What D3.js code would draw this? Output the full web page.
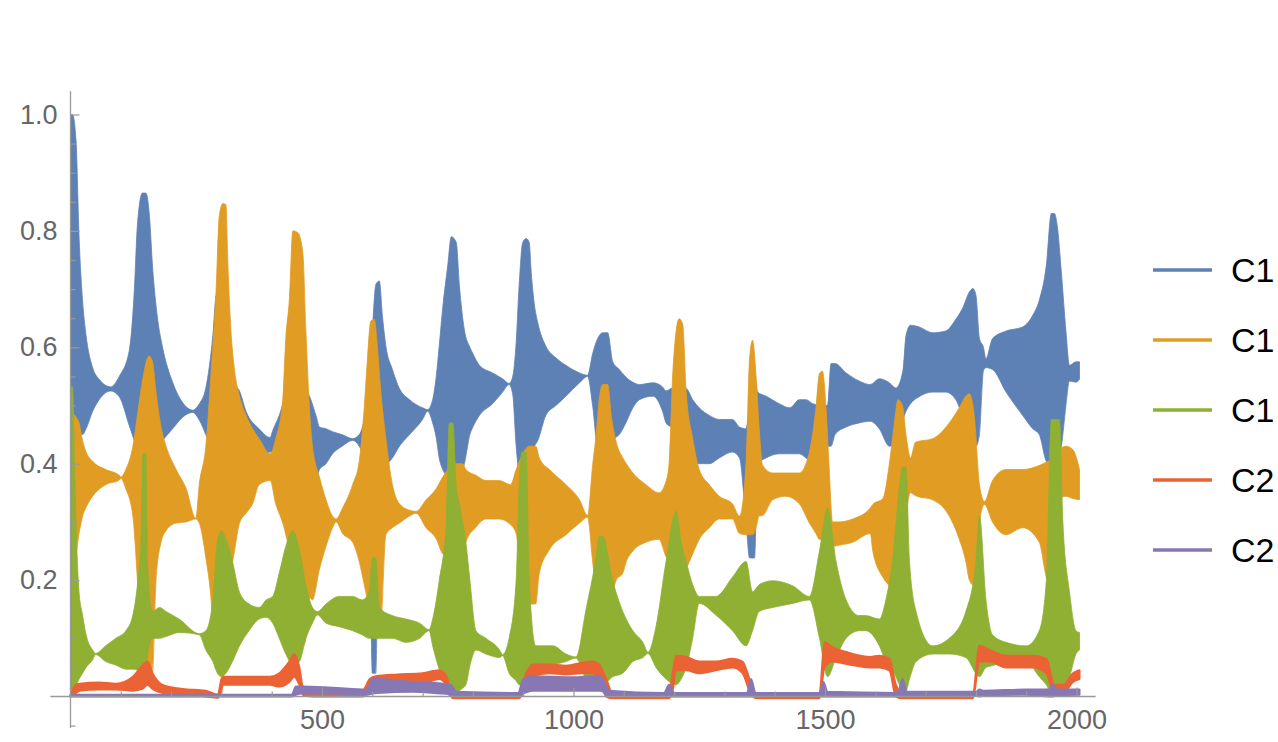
<!DOCTYPE html>
<html>
<head>
<meta charset="utf-8">
<script src="https://cdn.jsdelivr.net/npm/d3@7"></script>
<style>
  body { margin: 0; background: #fff; }
  svg { display: block; }
</style>
</head>
<body>
<svg id="chart" width="1278" height="742"></svg>
<script>
// series names as shown in the (clipped) legend
const names = ['C1', 'C1', 'C1', 'C2', 'C2'];

// each series oscillates fast, so it is kept as an envelope: [x, low, high]
const c1a = [[0,0.55,1.0],[4,0.50,1.0],[11,0.47,0.955],[17,0.45,0.79],[24,0.45,0.68],[31,0.46,0.62],[44,0.49,0.565],[57,0.51,0.545],[80,0.525,0.532],[97,0.515,0.55],[117,0.465,0.595],[127,0.44,0.70],[133,0.43,0.81],[143,0.43,0.865],[150,0.43,0.865],[157,0.43,0.825],[163,0.43,0.74],[173,0.43,0.65],[183,0.44,0.60],[203,0.46,0.54],[223,0.48,0.505],[243,0.488,0.492],[256,0.475,0.503],[269,0.45,0.53],[283,0.42,0.62],[290,0.41,0.69],[300,0.41,0.66],[310,0.41,0.60],[323,0.42,0.54],[336,0.42,0.525],[349,0.42,0.49],[375,0.415,0.46],[397,0.42,0.445],[402,0.42,0.457],[415,0.42,0.483],[425,0.40,0.51],[441,0.39,0.53],[468,0.375,0.525],[488,0.37,0.483],[495,0.39,0.463],[508,0.40,0.46],[521,0.417,0.455],[540,0.43,0.45],[561,0.44,0.443],[574,0.43,0.45],[587,0.40,0.496],[594,0.35,0.562],[600,0.04,0.628],[607,0.04,0.708],[614,0.38,0.714],[620,0.39,0.655],[627,0.397,0.602],[640,0.41,0.562],[654,0.43,0.529],[674,0.45,0.51],[700,0.476,0.496],[710,0.49,0.493],[720,0.47,0.51],[727,0.445,0.549],[733,0.41,0.602],[740,0.39,0.668],[750,0.38,0.741],[757,0.38,0.79],[767,0.38,0.78],[773,0.38,0.708],[783,0.40,0.63],[794,0.45,0.60],[800,0.463,0.589],[813,0.483,0.569],[839,0.503,0.556],[859,0.523,0.546],[872,0.536,0.538],[879,0.52,0.549],[886,0.43,0.608],[892,0.384,0.708],[899,0.38,0.78],[906,0.38,0.787],[912,0.40,0.78],[916,0.42,0.728],[922,0.43,0.675],[929,0.44,0.642],[945,0.483,0.602],[965,0.50,0.582],[985,0.516,0.569],[1012,0.539,0.556],[1028,0.55,0.552],[1038,0.50,0.589],[1048,0.43,0.615],[1058,0.43,0.625],[1068,0.44,0.625],[1078,0.443,0.575],[1091,0.45,0.562],[1104,0.47,0.549],[1118,0.496,0.54],[1131,0.51,0.536],[1158,0.516,0.539],[1177,0.49,0.532],[1184,0.47,0.525],[1197,0.46,0.53],[1210,0.43,0.53],[1224,0.40,0.529],[1237,0.40,0.51],[1250,0.40,0.496],[1270,0.40,0.483],[1290,0.41,0.476],[1316,0.42,0.476],[1330,0.41,0.463],[1343,0.30,0.46],[1350,0.238,0.50],[1360,0.238,0.55],[1366,0.40,0.523],[1383,0.41,0.516],[1409,0.417,0.503],[1430,0.417,0.496],[1449,0.417,0.51],[1462,0.41,0.51],[1476,0.40,0.503],[1495,0.38,0.50],[1505,0.43,0.50],[1512,0.43,0.572],[1520,0.45,0.572],[1542,0.463,0.556],[1568,0.47,0.542],[1590,0.473,0.536],[1608,0.46,0.546],[1628,0.43,0.539],[1641,0.44,0.53],[1655,0.476,0.56],[1661,0.49,0.62],[1670,0.503,0.638],[1687,0.515,0.635],[1714,0.523,0.625],[1740,0.523,0.628],[1760,0.51,0.648],[1774,0.48,0.668],[1787,0.45,0.695],[1794,0.43,0.701],[1800,0.43,0.69],[1807,0.45,0.615],[1815,0.56,0.60],[1820,0.565,0.58],[1833,0.562,0.615],[1860,0.523,0.628],[1893,0.483,0.635],[1913,0.46,0.655],[1926,0.45,0.681],[1940,0.404,0.741],[1950,0.397,0.83],[1956,0.397,0.83],[1962,0.40,0.807],[1970,0.43,0.728],[1979,0.50,0.628],[1986,0.542,0.569],[1999,0.54,0.575],[2006,0.545,0.575]];

const c1b = [[0,0.40,0.48],[4,0.25,0.486],[11,0.25,0.48],[17,0.28,0.47],[24,0.31,0.44],[31,0.325,0.42],[44,0.344,0.404],[70,0.364,0.39],[97,0.372,0.38],[100,0.375,0.377],[110,0.357,0.39],[124,0.31,0.43],[133,0.20,0.483],[143,0.04,0.542],[156,0.04,0.585],[163,0.04,0.575],[170,0.20,0.523],[180,0.265,0.463],[190,0.285,0.43],[210,0.298,0.39],[230,0.30,0.357],[249,0.305,0.306],[256,0.298,0.364],[269,0.239,0.43],[279,0.172,0.55],[289,0.047,0.69],[296,0.047,0.827],[303,0.047,0.847],[309,0.10,0.845],[313,0.17,0.74],[319,0.212,0.628],[326,0.25,0.562],[336,0.298,0.516],[349,0.315,0.483],[362,0.331,0.46],[375,0.364,0.443],[397,0.371,0.417],[408,0.331,0.443],[422,0.298,0.51],[428,0.278,0.615],[435,0.245,0.681],[442,0.153,0.80],[452,0.10,0.797],[462,0.087,0.761],[468,0.10,0.628],[475,0.17,0.496],[481,0.166,0.43],[495,0.219,0.377],[508,0.258,0.338],[521,0.29,0.31],[528,0.30,0.305],[541,0.28,0.324],[561,0.265,0.364],[574,0.232,0.404],[584,0.192,0.496],[590,0.166,0.575],[597,0.12,0.645],[604,0.10,0.648],[610,0.10,0.602],[617,0.12,0.523],[627,0.278,0.443],[640,0.29,0.364],[654,0.298,0.331],[674,0.31,0.32],[687,0.315,0.318],[707,0.29,0.338],[727,0.271,0.357],[740,0.245,0.377],[750,0.24,0.39],[760,0.232,0.40],[780,0.245,0.40],[786,0.265,0.39],[806,0.291,0.38],[826,0.305,0.371],[852,0.305,0.371],[875,0.295,0.364],[886,0.28,0.39],[899,0.18,0.417],[912,0.159,0.43],[925,0.159,0.43],[932,0.212,0.41],[952,0.252,0.39],[985,0.278,0.364],[1012,0.298,0.338],[1028,0.308,0.311],[1038,0.232,0.397],[1045,0.179,0.45],[1051,0.166,0.51],[1058,0.16,0.536],[1068,0.16,0.536],[1075,0.17,0.483],[1085,0.2,0.437],[1098,0.212,0.41],[1105,0.232,0.40],[1118,0.25,0.384],[1144,0.265,0.364],[1170,0.27,0.35],[1184,0.24,0.37],[1190,0.232,0.40],[1197,0.21,0.549],[1204,0.205,0.628],[1210,0.205,0.649],[1217,0.21,0.64],[1224,0.22,0.523],[1237,0.245,0.443],[1250,0.27,0.39],[1270,0.29,0.364],[1290,0.305,0.344],[1316,0.305,0.331],[1330,0.28,0.31],[1343,0.278,0.40],[1350,0.278,0.58],[1356,0.278,0.612],[1363,0.29,0.55],[1369,0.31,0.463],[1376,0.311,0.397],[1396,0.338,0.384],[1422,0.344,0.384],[1449,0.331,0.384],[1469,0.298,0.42],[1482,0.28,0.496],[1489,0.27,0.555],[1495,0.27,0.559],[1502,0.265,0.496],[1508,0.26,0.397],[1515,0.258,0.30],[1528,0.26,0.30],[1555,0.265,0.305],[1590,0.28,0.324],[1595,0.25,0.33],[1615,0.205,0.34],[1628,0.19,0.40],[1638,0.18,0.47],[1645,0.18,0.51],[1654,0.19,0.50],[1661,0.30,0.45],[1670,0.35,0.41],[1680,0.345,0.437],[1714,0.338,0.443],[1747,0.31,0.47],[1767,0.27,0.496],[1780,0.232,0.516],[1787,0.20,0.52],[1797,0.19,0.48],[1807,0.30,0.364],[1817,0.33,0.335],[1833,0.30,0.371],[1860,0.278,0.39],[1893,0.29,0.39],[1926,0.265,0.397],[1943,0.20,0.404],[1955,0.30,0.41],[1966,0.34,0.424],[1979,0.344,0.43],[1993,0.34,0.424],[2006,0.338,0.39]];

const c1c = [[0,0.0,0.532],[4,0.0,0.532],[8,0.02,0.40],[11,0.02,0.298],[17,0.03,0.179],[24,0.04,0.14],[31,0.05,0.106],[44,0.063,0.08],[50,0.072,0.074],[70,0.06,0.087],[90,0.054,0.10],[110,0.047,0.113],[124,0.047,0.14],[134,0.045,0.20],[140,0.04,0.265],[144,0.04,0.417],[150,0.05,0.417],[153,0.07,0.232],[163,0.10,0.146],[177,0.10,0.153],[190,0.103,0.146],[216,0.11,0.133],[256,0.106,0.108],[269,0.08,0.113],[283,0.06,0.166],[292,0.04,0.265],[300,0.034,0.285],[309,0.04,0.271],[322,0.06,0.232],[336,0.087,0.179],[355,0.113,0.159],[375,0.133,0.153],[389,0.136,0.166],[402,0.126,0.172],[415,0.10,0.212],[428,0.073,0.258],[442,0.054,0.285],[455,0.06,0.253],[468,0.10,0.192],[481,0.126,0.153],[491,0.14,0.146],[508,0.126,0.159],[534,0.12,0.172],[561,0.113,0.172],[580,0.106,0.166],[594,0.10,0.18],[600,0.10,0.238],[607,0.10,0.238],[614,0.10,0.153],[640,0.10,0.139],[667,0.093,0.133],[694,0.10,0.126],[713,0.113,0.115],[720,0.087,0.133],[733,0.047,0.199],[747,0.02,0.298],[753,0.0,0.47],[760,0.0,0.47],[767,0.005,0.36],[773,0.01,0.331],[786,0.02,0.265],[794,0.053,0.2],[806,0.08,0.113],[826,0.073,0.10],[853,0.067,0.08],[859,0.07,0.072],[872,0.04,0.10],[886,0.027,0.20],[892,0.02,0.364],[898,0.02,0.42],[906,0.02,0.42],[912,0.03,0.2],[925,0.047,0.087],[959,0.054,0.087],[985,0.06,0.073],[1005,0.066,0.068],[1025,0.03,0.15],[1045,0.02,0.24],[1051,0.02,0.275],[1058,0.02,0.275],[1078,0.034,0.199],[1098,0.04,0.146],[1118,0.06,0.113],[1138,0.067,0.093],[1148,0.074,0.076],[1164,0.05,0.12],[1184,0.03,0.232],[1204,0.02,0.318],[1214,0.03,0.265],[1224,0.05,0.232],[1237,0.10,0.192],[1250,0.16,0.172],[1283,0.14,0.172],[1316,0.113,0.205],[1343,0.087,0.232],[1356,0.113,0.18],[1369,0.146,0.192],[1396,0.153,0.199],[1436,0.16,0.19],[1469,0.166,0.172],[1489,0.10,0.25],[1505,0.034,0.324],[1522,0.067,0.232],[1542,0.10,0.166],[1568,0.113,0.139],[1581,0.113,0.139],[1608,0.087,0.133],[1621,0.06,0.166],[1634,0.047,0.232],[1648,0.02,0.36],[1654,0.01,0.394],[1661,0.01,0.394],[1668,0.03,0.232],[1681,0.06,0.146],[1714,0.073,0.087],[1747,0.073,0.10],[1780,0.067,0.146],[1800,0.04,0.232],[1807,0.034,0.311],[1820,0.05,0.166],[1833,0.053,0.106],[1860,0.06,0.093],[1900,0.06,0.087],[1926,0.034,0.113],[1940,0.02,0.199],[1950,0.005,0.476],[1966,0.01,0.476],[1973,0.02,0.298],[1986,0.034,0.18],[1999,0.073,0.113],[2006,0.08,0.11]];

const c2a = [[0,0.0,0.002],[10,0.005,0.02],[18,0.01,0.022],[57,0.012,0.024],[90,0.012,0.022],[124,0.01,0.034],[143,0.013,0.053],[153,0.02,0.06],[163,0.013,0.04],[183,0.006,0.02],[223,0.003,0.013],[269,0.0,0.01],[293,-0.002,0.003],[300,0.01,0.03],[303,0.02,0.034],[349,0.02,0.034],[397,0.02,0.034],[415,0.017,0.04],[435,0.025,0.06],[445,0.034,0.073],[455,0.02,0.05],[462,0.003,0.017],[480,0.0,0.01],[580,0.0,0.01],[595,0.01,0.03],[607,0.02,0.035],[650,0.02,0.038],[700,0.022,0.04],[733,0.03,0.045],[747,0.02,0.035],[760,-0.003,0.005],[892,-0.003,0.005],[906,0.02,0.04],[919,0.035,0.055],[952,0.04,0.055],[985,0.038,0.053],[1018,0.04,0.058],[1038,0.04,0.06],[1051,0.03,0.055],[1065,0.0,0.03],[1078,-0.003,0.005],[1190,-0.003,0.005],[1197,0.01,0.04],[1204,0.045,0.07],[1224,0.045,0.068],[1250,0.04,0.06],[1283,0.045,0.06],[1316,0.05,0.065],[1336,0.04,0.06],[1350,0.01,0.03],[1363,-0.003,0.005],[1489,-0.003,0.005],[1499,0.05,0.093],[1515,0.06,0.085],[1548,0.055,0.075],[1590,0.05,0.068],[1608,0.05,0.07],[1628,0.045,0.065],[1641,0.0,0.02],[1654,-0.003,0.006],[1794,-0.003,0.006],[1807,0.06,0.087],[1827,0.06,0.08],[1860,0.05,0.07],[1913,0.05,0.07],[1940,0.04,0.065],[1956,0.005,0.02],[1973,0.005,0.02],[1993,0.025,0.04],[2006,0.03,0.045]];

const c2b = [[0,0.0,0.003],[440,0.0,0.003],[448,0.003,0.017],[460,0.005,0.017],[520,0.005,0.015],[590,0.003,0.012],[600,0.005,0.03],[610,0.006,0.03],[680,0.008,0.025],[740,0.005,0.022],[757,0.004,0.02],[767,0.0,0.008],[890,0.0,0.006],[900,0.005,0.03],[919,0.01,0.035],[1000,0.01,0.033],[1038,0.01,0.035],[1055,0.01,0.033],[1071,0.0,0.01],[1180,0.0,0.006],[1190,0.0,0.02],[1200,0.0,0.006],[1345,0.0,0.006],[1353,0.0,0.03],[1362,0.0,0.006],[1490,0.0,0.006],[1497,0.0,0.025],[1505,0.0,0.008],[1645,0.0,0.006],[1654,0.0,0.03],[1663,0.0,0.008],[1800,0.002,0.008],[1807,0.0,0.012],[1815,0.002,0.01],[1900,0.003,0.012],[1945,0.0,0.012],[1953,0.0,0.02],[1962,0.002,0.012],[2006,0.003,0.012]];

const seriesData = [c1a, c1b, c1c, c2a, c2b];
const colors = ['#5e81b5', '#e19c24', '#8fb032', '#eb6235', '#8778b3'];

const xMajor = [500, 1000, 1500, 2000];
const yMajor = [0.2, 0.4, 0.6, 0.8, 1.0];
const xMinor = d3.range(100, 2001, 100).filter(d => d % 500 !== 0);
const yMinor = [-0.05, 0.05, 0.1, 0.15, 0.25, 0.3, 0.35, 0.45, 0.5, 0.55, 0.65, 0.7, 0.75, 0.85, 0.9, 0.95];

const svg = d3.select('#chart');

const x = d3.scaleLinear().domain([0, 2000]).range([70.5, 1076.5]);
const y = d3.scaleLinear().domain([0, 1]).range([696.5, 114.5]);

const axisColor = '#999';
const labelColor = '#666';
const font = '"Liberation Sans", Arial, sans-serif';

// series bands, drawn in legend order so later ones sit on top
const area = d3.area()
  .curve(d3.curveMonotoneX)
  .x(d => x(d[0]))
  .y0(d => y(d[1]))
  .y1(d => y(d[2]));

const bands = svg.append('g');
seriesData.forEach((s, i) => {
  bands.append('path')
    .datum(s)
    .attr('fill', colors[i])
    .attr('stroke', colors[i])
    .attr('stroke-width', i >= 3 ? 2 : 0.8)
    .attr('stroke-linejoin', 'round')
    .attr('d', area);
});

// axes in Mathematica style: ticks point into the plot
const axes = svg.append('g');

axes.append('line')
  .attr('x1', x(-40)).attr('x2', x(2038))
  .attr('y1', y(0)).attr('y2', y(0))
  .attr('stroke', axisColor).attr('stroke-width', 1.3);

axes.append('line')
  .attr('x1', x(0)).attr('x2', x(0))
  .attr('y1', y(-0.054)).attr('y2', y(1.04))
  .attr('stroke', axisColor).attr('stroke-width', 1.3);

const yAxis = axes.append('g')
  .attr('transform', `translate(${x(0)},0)`)
  .call(d3.axisLeft(y).tickValues(yMajor).tickFormat(d3.format('.1f'))
    .tickSizeInner(-9).tickSizeOuter(0).tickPadding(13));
const yMinorAxis = axes.append('g')
  .attr('transform', `translate(${x(0)},0)`)
  .call(d3.axisLeft(y).tickValues(yMinor).tickFormat('')
    .tickSizeInner(-5).tickSizeOuter(0));

const xAxis = axes.append('g')
  .attr('transform', `translate(0,${y(0)})`)
  .call(d3.axisBottom(x).tickValues(xMajor).tickFormat(d3.format('d'))
    .tickSizeInner(-9).tickSizeOuter(0).tickPadding(13));
const xMinorAxis = axes.append('g')
  .attr('transform', `translate(0,${y(0)})`)
  .call(d3.axisBottom(x).tickValues(xMinor).tickFormat('')
    .tickSizeInner(-5).tickSizeOuter(0));

[yAxis, yMinorAxis, xAxis, xMinorAxis].forEach(g => {
  g.select('.domain').remove();
  g.selectAll('.tick line').attr('stroke', axisColor).attr('stroke-width', 1.2);
  g.selectAll('.tick text')
    .attr('fill', labelColor)
    .style('font-family', font)
    .style('font-size', '27px');
});

// legend on the right, cut off by the image edge
const legend = svg.append('g');
names.forEach((n, i) => {
  const ly = 270 + i * 70;
  legend.append('line')
    .attr('x1', 1153).attr('x2', 1212)
    .attr('y1', ly).attr('y2', ly)
    .attr('stroke', colors[i]).attr('stroke-width', 3.5);
  legend.append('text')
    .attr('x', 1231).attr('y', ly)
    .attr('dominant-baseline', 'central')
    .style('font-family', font)
    .style('font-size', '34px')
    .attr('fill', '#000')
    .text(n);
});
</script>
</body>
</html>
